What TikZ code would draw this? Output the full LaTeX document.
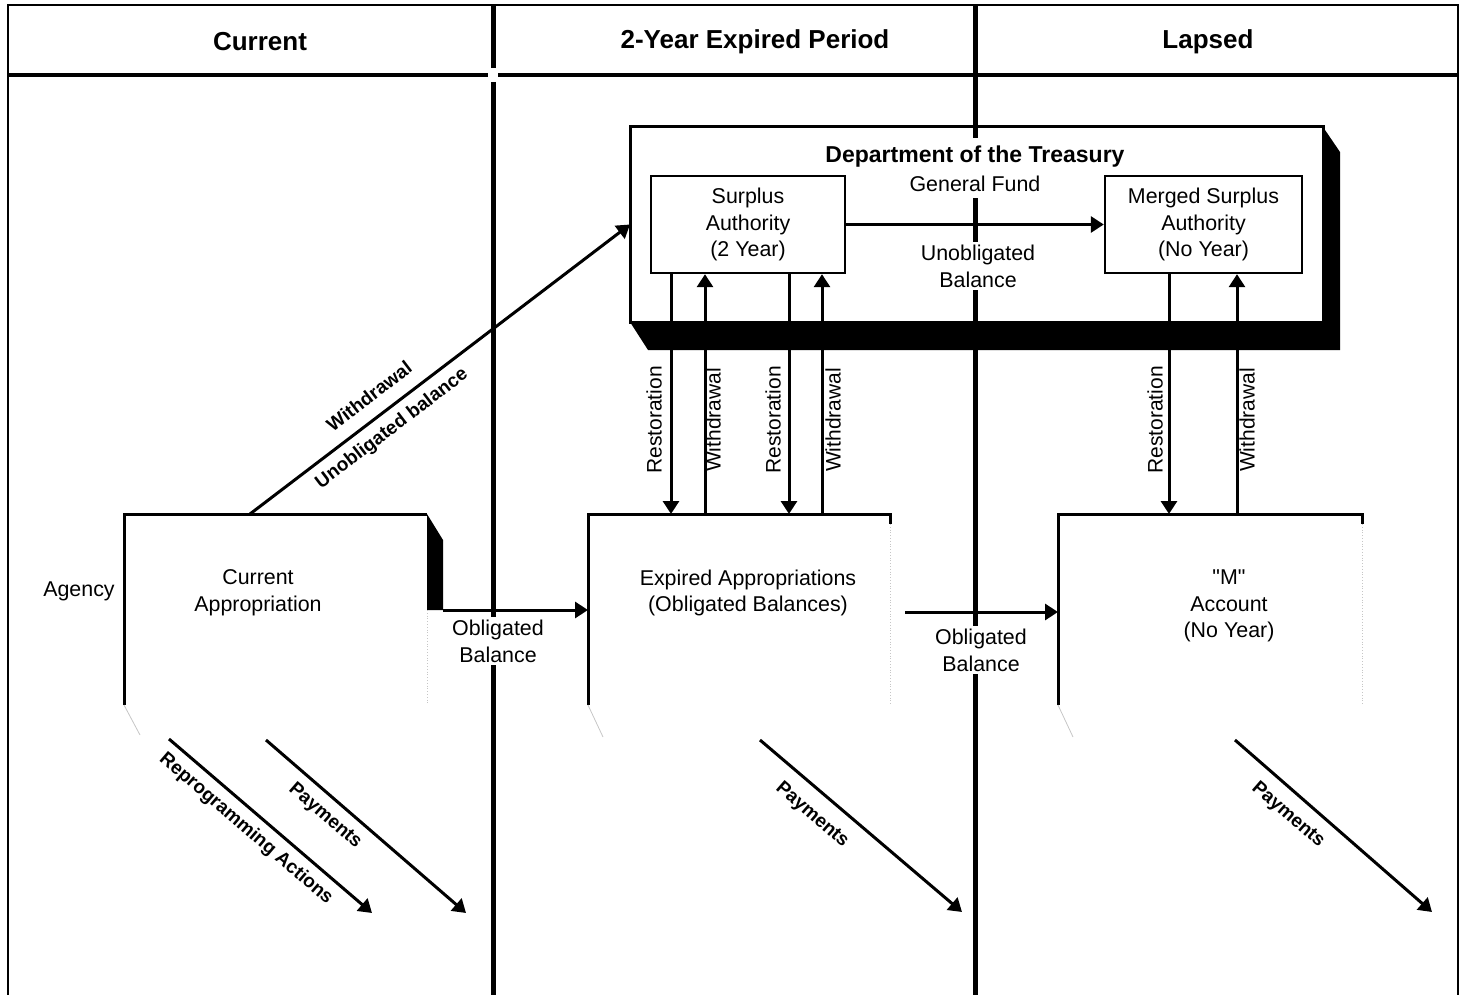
\documentclass[tikz,border=0pt]{standalone}
\usepackage{fontspec}
\setmainfont{Liberation Sans}
\newfontfamily\plainquote{Liberation Sans}[Ligatures=TeXOff]
\usetikzlibrary{arrows.meta,positioning}

\begin{document}
\begin{tikzpicture}[x=0.5pt,y=-0.5pt,>={Triangle[length=6.5pt,width=8pt]},
  head/.style={font=\bfseries\fontsize{13}{15}\selectfont},
  lbl/.style={font=\fontsize{10.7}{13.4}\selectfont,align=center,inner sep=1.5pt},
  vlab/.style={font=\fontsize{10.5}{12}\selectfont,rotate=90,inner sep=0pt},
  dlab/.style={font=\bfseries\fontsize{9.5}{11}\selectfont,inner sep=0pt},
  area/.style={inner sep=0pt,outer sep=0pt},
  divider/.style={line width=2.5pt},
  boxedge/.style={line width=1.5pt},
  flow/.style={->,line width=1.5pt},
  faint/.style={gray!45,line width=0.4pt,densely dotted}]

            \useasboundingbox (0,0) rectangle (1464,995);

            % columns
            \draw[line width=1pt] (8,995) -- (8,5) -- (1458,5) -- (1458,995);
            \draw[line width=1.6pt] (8,75) -- (488,75) (498,75) -- (1458,75);
            \draw[divider] (493,5) -- (493,68) (493,82) -- (493,995);
            \draw[divider] (975,5) -- (975,995);

            \node[head] (hcur) at (260,42) {Current};
            \node[head] (hexp) at (755,42) {2-Year Expired Period};
            \node[head] (hlap) at (1208,42) {Lapsed};

            % treasury
            \node[area,minimum width=346.5pt,minimum height=97.5pt] (tre) at (976.5,224.5) {};
            \fill (tre.north east) -- (1340,152) -- (1340,350) -- (648,350) -- (tre.south west) -- (tre.south east) -- cycle;
            \draw[boxedge] (tre.south west) rectangle (tre.north east);

            \node[lbl,fill=white,inner ysep=4pt,font=\bfseries\fontsize{11.5}{13}\selectfont] (trt) at (975,157) {Department of the Treasury};
            \node[lbl,fill=white,inner ysep=3pt] (gf) at (975,184) {General Fund};
            \node[lbl,draw,line width=1.2pt,minimum width=97pt,minimum height=48.5pt] (sur) at (748,224.5) {Surplus\\Authority\\(2 Year)};
            \node[lbl,draw,line width=1.2pt,minimum width=98.5pt,minimum height=48.5pt] (mer) at (1203.5,224.5) {Merged Surplus\\Authority\\(No Year)};
            \node[lbl,fill=white] (unob) at (978,266) {Unobligated\\Balance};

            \draw[flow] (sur.east) -- (mer.west);

            % agency accounts
            \node[area,minimum width=151.5pt,minimum height=95.5pt] (cur) at (275.5,609.5) {};
            \node[area,minimum width=151pt,minimum height=95.5pt] (exp) at (739,609.5) {};
            \node[area,minimum width=152pt,minimum height=95.5pt] (macc) at (1210,609.5) {};

            \draw[boxedge] (cur.south west) -- (cur.north west) -- (cur.north east);
            \fill (cur.north east) -- ++(16,26) -- ++(0,70) -- ++(-16,0) -- cycle;
            \draw[boxedge] (exp.south west) -- (exp.north west) -- (exp.north east) -- ++(0,10);
            \draw[boxedge] (macc.south west) -- (macc.north west) -- (macc.north east) -- ++(0,10);
            \draw[faint] (cur.north east) ++(0,96) -- (cur.south east);
            \draw[faint] (exp.north east) ++(0,10) -- (exp.south east);
            \draw[faint] (macc.north east) ++(0,10) -- (macc.south east);
            \draw[faint,solid] (cur.south west) -- ++(16,30);
            \draw[faint,solid] (exp.south west) -- ++(15,32);
            \draw[faint,solid] (macc.south west) -- ++(15,32);

            \node[lbl] (agency) at (79,591) {Agency};
            \node[lbl] (curtxt) at (258,593) {Current\\Appropriation};
            \node[lbl] (exptxt) at (748,593) {Expired Appropriations\\(Obligated Balances)};
            \node[lbl] (mtxt) at (1229,606) {{\plainquote "M"}\\Account\\(No Year)};

            \coordinate (ob1) at (443,610);
            \coordinate (ob2) at (905,612);
            \draw[flow] (ob1) -- (exp.west |- ob1);
            \draw[flow] (ob2) -- (macc.west |- ob2);
            \node[lbl,fill=white] (obl1) at (498,641) {Obligated\\Balance};
            \node[lbl,fill=white] (obl2) at (981,650) {Obligated\\Balance};

            % restoration / withdrawal
            \coordinate (ra) at (671,0);
            \coordinate (wa) at (705,0);
            \coordinate (rb) at (789,0);
            \coordinate (wb) at (822,0);
            \coordinate (rc) at (1169,0);
            \coordinate (wc) at (1237,0);

            \draw[flow] (sur.south -| ra) -- (exp.north -| ra);
            \draw[flow] (exp.north -| wa) -- (sur.south -| wa);
            \draw[flow] (sur.south -| rb) -- (exp.north -| rb);
            \draw[flow] (exp.north -| wb) -- (sur.south -| wb);
            \draw[flow] (mer.south -| rc) -- (macc.north -| rc);
            \draw[flow] (macc.north -| wc) -- (mer.south -| wc);

            \node[vlab] (rla) at (654,420) {Restoration};
            \node[vlab] (wla) at (713,420) {Withdrawal};
            \node[vlab] (rlb) at (773,420) {Restoration};
            \node[vlab] (wlb) at (833,420) {Withdrawal};
            \node[vlab] (rlc) at (1155,420) {Restoration};
            \node[vlab] (wlc) at (1247,420) {Withdrawal};

            % unobligated withdrawal
            \coordinate (wd) at (250,514);
            \draw[flow] (wd) -- (tre.west);
            \node[dlab,rotate=37.3] (wdl) at (369,396) {Withdrawal};
            \node[dlab,rotate=37.3] (ubl) at (392,429) {Unobligated balance};

            % outflows
            \coordinate (rps) at (169,739);
            \coordinate (rpe) at (372,913);
            \coordinate (ps1) at (266,740);
            \coordinate (pe1) at (466,913);
            \coordinate (ps2) at (760,740);
            \coordinate (pe2) at (962,912);
            \coordinate (ps3) at (1235,740);
            \coordinate (pe3) at (1432,912);

            \draw[flow] (rps) -- (rpe);
            \draw[flow] (ps1) -- (pe1);
            \draw[flow] (ps2) -- (pe2);
            \draw[flow] (ps3) -- (pe3);

            \node[dlab,rotate=-40.6] (rpl) at (246,829) {Reprogramming Actions};
            \node[dlab,rotate=-41] (pl1) at (325,816) {Payments};
            \node[dlab,rotate=-41] (pl2) at (812,815) {Payments};
            \node[dlab,rotate=-41] (pl3) at (1288,815) {Payments};

        \end{tikzpicture}
\end{document}
